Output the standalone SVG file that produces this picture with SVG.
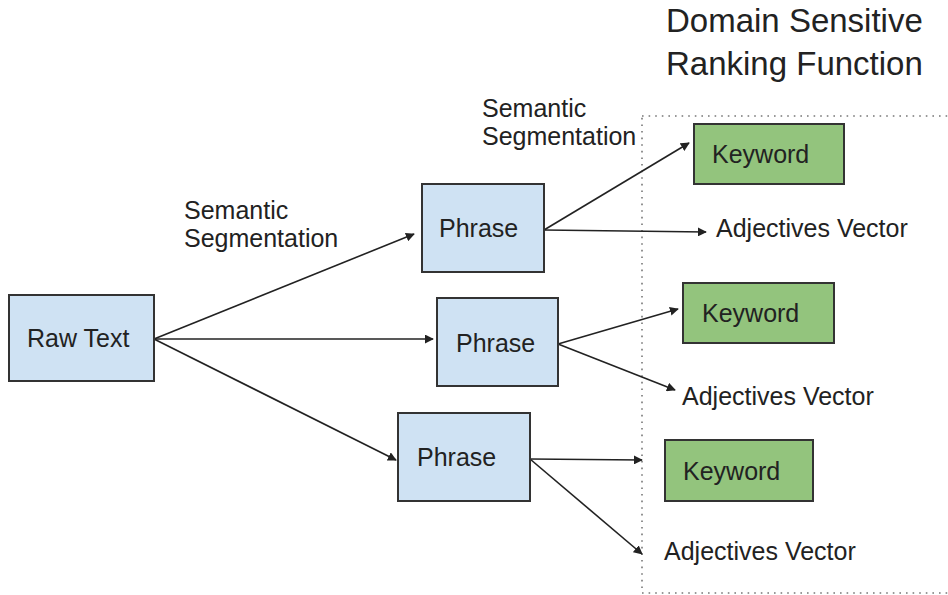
<svg xmlns="http://www.w3.org/2000/svg" width="948" height="595" viewBox="0 0 948 595">
<style>
text{font-family:"Liberation Sans",Arial,sans-serif;fill:#222;}
.t{font-size:25px;}
.title{font-size:33px;}
.blue{fill:#cfe2f3;stroke:#333;stroke-width:2;}
.green{fill:#93c47d;stroke:#333;stroke-width:2;}
.c{stroke:#222;stroke-width:1.6;fill:none;marker-end:url(#ah);}
</style>
<defs>
<marker id="ah" viewBox="0 0 10 10" refX="9" refY="5" markerWidth="9" markerHeight="9" markerUnits="userSpaceOnUse" orient="auto">
<path d="M0,0 L10,5 L0,10 Z" fill="#222"/>
</marker>
</defs>
<rect x="642" y="116" width="320" height="477" fill="none" stroke="#777" stroke-width="1.6" stroke-dasharray="1.6 5"/>
<g id="title"><text class="title" x="666" y="32">Domain Sensitive</text><text class="title" x="666" y="75">Ranking Function</text></g>
<g id="label-seg1"><text class="t" x="184" y="219">Semantic</text><text class="t" x="184" y="247">Segmentation</text></g>
<g id="label-seg2"><text class="t" x="482" y="117">Semantic</text><text class="t" x="482" y="145">Segmentation</text></g>
<g id="connectors">
<line class="c" x1="154" y1="339" x2="414" y2="234"/>
<line class="c" x1="154" y1="339" x2="433" y2="339"/>
<line class="c" x1="154" y1="339" x2="396" y2="460"/>
<line class="c" x1="544" y1="230" x2="689" y2="143"/>
<line class="c" x1="544" y1="230" x2="706" y2="232"/>
<line class="c" x1="558" y1="344" x2="678" y2="309"/>
<line class="c" x1="558" y1="344" x2="675" y2="390"/>
<line class="c" x1="530" y1="459" x2="642" y2="460"/>
<line class="c" x1="530" y1="459" x2="642" y2="554"/>
</g>
<g id="raw-text"><rect class="blue" x="9" y="295" width="145" height="86"/><text class="t" x="27" y="347">Raw Text</text></g>
<g id="phrase1"><rect class="blue" x="422" y="184" width="122" height="88"/><text class="t" x="439" y="237">Phrase</text></g>
<g id="phrase2"><rect class="blue" x="437" y="298" width="121" height="88"/><text class="t" x="456" y="352">Phrase</text></g>
<g id="phrase3"><rect class="blue" x="398" y="413" width="132" height="88"/><text class="t" x="417" y="466">Phrase</text></g>
<g id="keyword1"><rect class="green" x="694" y="124" width="150" height="60"/><text class="t" x="712" y="163">Keyword</text></g>
<g id="keyword2"><rect class="green" x="683" y="283" width="151" height="60"/><text class="t" x="702" y="322">Keyword</text></g>
<g id="keyword3"><rect class="green" x="665" y="440" width="148" height="61"/><text class="t" x="683" y="480">Keyword</text></g>
<g id="adj1"><text class="t" x="716" y="237">Adjectives Vector</text></g>
<g id="adj2"><text class="t" x="682" y="405">Adjectives Vector</text></g>
<g id="adj3"><text class="t" x="664" y="560">Adjectives Vector</text></g>
</svg>
